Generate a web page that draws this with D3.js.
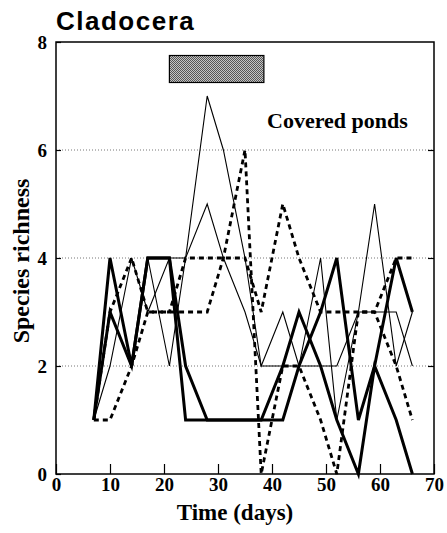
<!DOCTYPE html>
<html>
<head>
<meta charset="utf-8">
<style>
  body { margin: 0; background: #fff; }
  text { font-family: 'Liberation Serif', 'Times New Roman', serif; font-weight: bold; fill: #000; }
  .title { font-family: 'Liberation Sans', Arial, sans-serif; }
  .grid line { stroke: #777; stroke-dasharray: 1,2; }
  .axis path { display: none; }
  .axis line { stroke: #000; stroke-width: 1.2; }
  .axis text { font-size: 19px; }
</style>
</head>
<body>
<svg id="chart"></svg>
<script src="https://d3js.org/d3.v7.min.js"></script>
<script>

var width = 447,
    height = 533;

// sampling days
var days = [7, 10, 14, 17, 21, 24, 28, 31, 35, 38, 42, 45, 49, 52, 56, 59, 63, 66];

// species richness per pond
var thickA = [1, 4, 2, 4, 4, 2, 1, 1, 1, 1, 1, 2, 3, 4, 1, 2, 4, 3];
var thickB = [1, 3, 2, 4, 4, 1, 1, 1, 1, 1, 2, 3, 2, 1, 0, 2, 1, 0];
var thinA  = [1, 4, 2, 4, 2, 4, 7, 6, 4, 2, 2, 2, 2, 2, 3, 3, 3, 2];
var thinB  = [1, 2, 4, 3, 4, 4, 5, 4, 3, 2, 3, 2, 4, 1, 3, 5, 2, 3];
var dashA  = [1, 1, 2, 3, 3, 3, 3, 4, 6, 0, 2, 2, 1, 0, 3, 3, 4, 4];
var dashB  = [1, 3, 4, 3, 3, 4, 4, 4, 4, 3, 5, 4, 3, 3, 3, 3, 2, 1];

// covering period (grey bar)
var cover = [21, 38.5];
var coverY = [7.25, 7.75];

var xTicks = [0, 10, 20, 30, 40, 50, 60, 70];
var yTicks = [0, 2, 4, 6, 8];
var gridValues = [2, 4, 6];

var x = d3.scaleLinear().domain([0, 70]).range([56, 434]);
var y = d3.scaleLinear().domain([0, 8]).range([474, 42]);

var svg = d3.select('#chart')
  .attr('width', width)
  .attr('height', height);

// texture for the grey bar
var pat = svg.append('defs').append('pattern')
  .attr('id', 'dots')
  .attr('width', 2)
  .attr('height', 2)
  .attr('patternUnits', 'userSpaceOnUse');
pat.append('rect').attr('width', 2).attr('height', 2).attr('fill', '#c4c4c4');
pat.append('rect').attr('width', 1).attr('height', 1).attr('fill', '#555');
pat.append('rect').attr('x', 1).attr('y', 1).attr('width', 1).attr('height', 1).attr('fill', '#555');

// dotted gridlines
svg.append('g')
  .attr('class', 'grid')
  .selectAll('line')
  .data(gridValues)
  .enter().append('line')
    .attr('x1', x(0))
    .attr('x2', x(70))
    .attr('y1', function(d) { return y(d); })
    .attr('y2', function(d) { return y(d); });

// axes, ticks pointing inward
svg.append('g')
  .attr('class', 'axis')
  .attr('transform', 'translate(0,' + y(0) + ')')
  .call(d3.axisBottom(x).tickValues(xTicks).tickSizeInner(-10).tickSizeOuter(0).tickPadding(3));

svg.append('g')
  .attr('class', 'axis')
  .attr('transform', 'translate(' + x(0) + ',0)')
  .call(d3.axisLeft(y).tickValues(yTicks).tickSizeInner(-5).tickSizeOuter(0).tickPadding(9));

svg.append('g')
  .attr('class', 'axis')
  .attr('transform', 'translate(' + x(70) + ',0)')
  .call(d3.axisRight(y).tickValues(gridValues).tickSizeInner(-6).tickSizeOuter(0).tickFormat(''));

// grey bar
svg.append('rect')
  .attr('x', x(cover[0]))
  .attr('y', y(coverY[1]))
  .attr('width', x(cover[1]) - x(cover[0]))
  .attr('height', y(coverY[0]) - y(coverY[1]))
  .attr('fill', 'url(#dots)')
  .attr('stroke', '#000')
  .attr('stroke-width', 1.2);

// series
var series = [
  { values: thinA,  width: 1.1, dash: null },
  { values: thinB,  width: 1.1, dash: null },
  { values: dashA,  width: 2.8, dash: '5,4' },
  { values: dashB,  width: 2.8, dash: '5,4' },
  { values: thickA, width: 3,   dash: null },
  { values: thickB, width: 3,   dash: null }
];

var line = d3.line()
  .x(function(d, i) { return x(days[i]); })
  .y(function(d) { return y(d); });

svg.append('g')
  .selectAll('path')
  .data(series)
  .enter().append('path')
    .attr('d', function(d) { return line(d.values); })
    .attr('fill', 'none')
    .attr('stroke', '#000')
    .attr('stroke-width', function(d) { return d.width; })
    .attr('stroke-dasharray', function(d) { return d.dash; })
    .attr('stroke-linejoin', 'miter');

// frame
svg.append('rect')
  .attr('x', x(0))
  .attr('y', y(8))
  .attr('width', x(70) - x(0))
  .attr('height', y(0) - y(8))
  .attr('fill', 'none')
  .attr('stroke', '#000')
  .attr('stroke-width', 1.5);

// labels
svg.append('text')
  .attr('class', 'title')
  .attr('x', 56)
  .attr('y', 30)
  .style('font-size', '26px')
  .style('letter-spacing', '1.5px')
  .text('Cladocera');

svg.append('text')
  .attr('x', 267)
  .attr('y', 128)
  .style('font-size', '22px')
  .text('Covered ponds');

svg.append('text')
  .attr('x', 235)
  .attr('y', 520)
  .attr('text-anchor', 'middle')
  .style('font-size', '23px')
  .text('Time (days)');

svg.append('text')
  .attr('transform', 'translate(29,261) rotate(-90)')
  .attr('text-anchor', 'middle')
  .style('font-size', '24px')
  .text('Species richness');

</script>
</body>
</html>
